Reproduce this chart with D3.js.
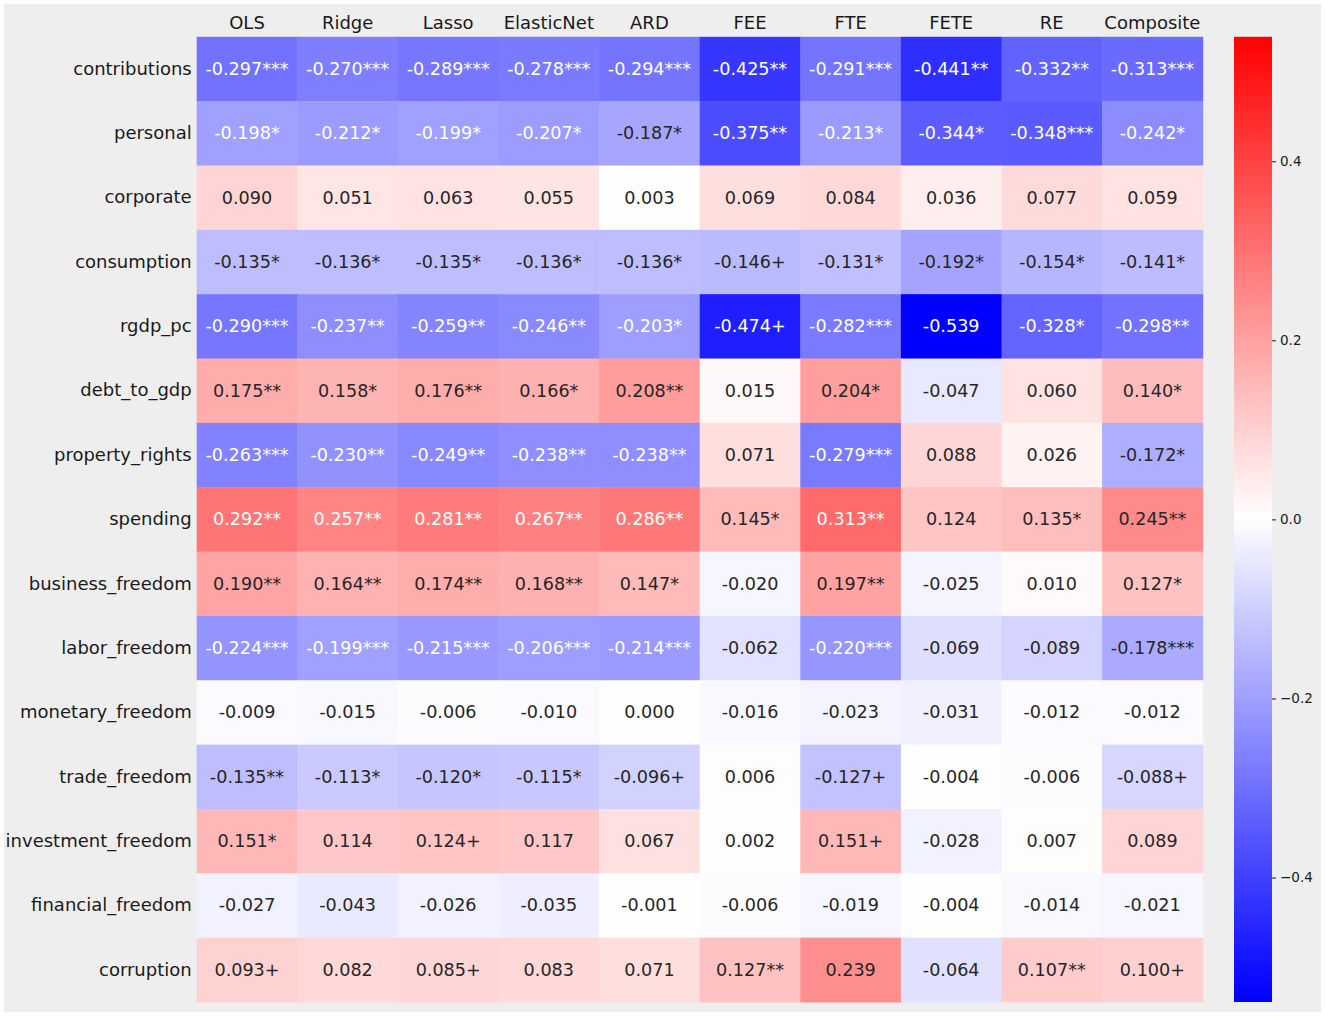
<!DOCTYPE html>
<html>
<head>
<meta charset="utf-8">
<script src="https://cdn.jsdelivr.net/npm/d3@7"></script>
<style>
  body { margin: 0; background: #ffffff; }
  text { font-family: "DejaVu Sans", sans-serif; }
</style>
</head>
<body>
<script>
// Les données du tableau
const modeles = ["OLS", "Ridge", "Lasso", "ElasticNet", "ARD", "FEE", "FTE", "FETE", "RE", "Composite"];
const variables = ["contributions", "personal", "corporate", "consumption", "rgdp_pc", "debt_to_gdp",
    "property_rights", "spending", "business_freedom", "labor_freedom", "monetary_freedom",
    "trade_freedom", "investment_freedom", "financial_freedom", "corruption"];

// coefficients, une ligne par variable
const coefficients = [
    [-0.297, -0.270, -0.289, -0.278, -0.294, -0.425, -0.291, -0.441, -0.332, -0.313],
    [-0.198, -0.212, -0.199, -0.207, -0.187, -0.375, -0.213, -0.344, -0.348, -0.242],
    [0.090, 0.051, 0.063, 0.055, 0.003, 0.069, 0.084, 0.036, 0.077, 0.059],
    [-0.135, -0.136, -0.135, -0.136, -0.136, -0.146, -0.131, -0.192, -0.154, -0.141],
    [-0.290, -0.237, -0.259, -0.246, -0.203, -0.474, -0.282, -0.539, -0.328, -0.298],
    [0.175, 0.158, 0.176, 0.166, 0.208, 0.015, 0.204, -0.047, 0.060, 0.140],
    [-0.263, -0.230, -0.249, -0.238, -0.238, 0.071, -0.279, 0.088, 0.026, -0.172],
    [0.292, 0.257, 0.281, 0.267, 0.286, 0.145, 0.313, 0.124, 0.135, 0.245],
    [0.190, 0.164, 0.174, 0.168, 0.147, -0.020, 0.197, -0.025, 0.010, 0.127],
    [-0.224, -0.199, -0.215, -0.206, -0.214, -0.062, -0.220, -0.069, -0.089, -0.178],
    [-0.009, -0.015, -0.006, -0.010, 0.000, -0.016, -0.023, -0.031, -0.012, -0.012],
    [-0.135, -0.113, -0.120, -0.115, -0.096, 0.006, -0.127, -0.004, -0.006, -0.088],
    [0.151, 0.114, 0.124, 0.117, 0.067, 0.002, 0.151, -0.028, 0.007, 0.089],
    [-0.027, -0.043, -0.026, -0.035, -0.001, -0.006, -0.019, -0.004, -0.014, -0.021],
    [0.093, 0.082, 0.085, 0.083, 0.071, 0.127, 0.239, -0.064, 0.107, 0.100]
];

// niveaux de significativite
const etoiles = [
    ["***", "***", "***", "***", "***", "**", "***", "**", "**", "***"],
    ["*", "*", "*", "*", "*", "**", "*", "*", "***", "*"],
    ["", "", "", "", "", "", "", "", "", ""],
    ["*", "*", "*", "*", "*", "+", "*", "*", "*", "*"],
    ["***", "**", "**", "**", "*", "+", "***", "", "*", "**"],
    ["**", "*", "**", "*", "**", "", "*", "", "", "*"],
    ["***", "**", "**", "**", "**", "", "***", "", "", "*"],
    ["**", "**", "**", "**", "**", "*", "**", "", "*", "**"],
    ["**", "**", "**", "**", "*", "", "**", "", "", "*"],
    ["***", "***", "***", "***", "***", "", "***", "", "", "***"],
    ["", "", "", "", "", "", "", "", "", ""],
    ["**", "*", "*", "*", "+", "", "+", "", "", "+"],
    ["*", "", "+", "", "", "", "+", "", "", ""],
    ["", "", "", "", "", "", "", "", "", ""],
    ["+", "", "+", "", "", "**", "", "", "**", "+"]
];

const ticksBarre = [-0.4, -0.2, 0.0, 0.2, 0.4];

// dimensions
const largeur = 1325;
const hauteur = 1016;
const gauche = 196.7, droite = 1202.7, haut = 36.8, bas = 1002;
const barreX = 1234, barreLargeur = 38;

const vmax = 0.539;

const svg = d3.select("body").append("svg")
    .attr("width", largeur)
    .attr("height", hauteur);

// fond gris
svg.append("rect")
    .attr("x", 4).attr("y", 4)
    .attr("width", 1317).attr("height", 1008)
    .attr("fill", "#eeeeee");

const x = d3.scaleBand().domain(modeles).range([gauche, droite]);
const y = d3.scaleBand().domain(variables).range([haut, bas]);

// colormap bwr de matplotlib (256 niveaux)
function bwr(v) {
    let t = (v + vmax) / (2 * vmax);
    let i = Math.min(255, Math.max(0, Math.floor(t * 256)));
    let p = i / 255;
    let r, g, b;
    if (p < 0.5) { r = 2 * p; g = 2 * p; b = 1; }
    else { r = 1; g = 2 * (1 - p); b = 2 * (1 - p); }
    return [r, g, b];
}
function enHex(c) {
    return d3.rgb(c[0] * 255, c[1] * 255, c[2] * 255).formatHex();
}
function luminance(c) {
    const lin = c.map(u => u <= 0.03928 ? u / 12.92 : Math.pow((u + 0.055) / 1.055, 2.4));
    return 0.2126 * lin[0] + 0.7152 * lin[1] + 0.0722 * lin[2];
}

const cellules = [];
variables.forEach((v, i) => {
    modeles.forEach((m, j) => {
        cellules.push({ v: v, m: m, val: coefficients[i][j], sig: etoiles[i][j] });
    });
});

// cases
svg.append("g").selectAll("rect")
    .data(cellules)
    .join("rect")
    .attr("x", d => x(d.m))
    .attr("y", d => y(d.v))
    .attr("width", x.bandwidth() + 0.5)
    .attr("height", y.bandwidth() + 0.5)
    .attr("fill", d => enHex(bwr(d.val)));

// texte des cases
svg.append("g").selectAll("text")
    .data(cellules)
    .join("text")
    .attr("x", d => x(d.m) + x.bandwidth() / 2)
    .attr("y", d => y(d.v) + y.bandwidth() / 2)
    .attr("text-anchor", "middle")
    .attr("dy", "0.34em")
    .style("font-size", "17.6px")
    .attr("fill", d => luminance(bwr(d.val)) > 0.408 ? "#262626" : "#ffffff")
    .text(d => d.val.toFixed(3) + d.sig);

// axes
const axeHaut = svg.append("g")
    .attr("transform", `translate(0,${haut})`)
    .call(d3.axisTop(x).tickSize(0).tickPadding(8));
const axeGauche = svg.append("g")
    .attr("transform", `translate(${gauche},0)`)
    .call(d3.axisLeft(y).tickSize(0).tickPadding(5));
[axeHaut, axeGauche].forEach(a => {
    a.select(".domain").remove();
    a.selectAll("text")
        .style("font-family", "DejaVu Sans")
        .style("font-size", "18px")
        .attr("fill", "#1a1a1a");
});

// barre de couleur
const defs = svg.append("defs");
const grad = defs.append("linearGradient")
    .attr("id", "degrade")
    .attr("x1", 0).attr("y1", 1).attr("x2", 0).attr("y2", 0);
d3.range(0, 257, 8).forEach(k => {
    const t = k / 256;
    grad.append("stop")
        .attr("offset", t)
        .attr("stop-color", enHex(bwr(-vmax + t * 2 * vmax - 1e-9)));
});
svg.append("rect")
    .attr("x", barreX).attr("y", haut)
    .attr("width", barreLargeur).attr("height", bas - haut)
    .attr("fill", "url(#degrade)");

const echelleBarre = d3.scaleLinear().domain([-vmax, vmax]).range([bas, haut]);
const axeBarre = svg.append("g")
    .attr("transform", `translate(${barreX + barreLargeur},0)`)
    .call(d3.axisRight(echelleBarre).tickValues(ticksBarre).tickSize(4).tickPadding(4).tickFormat(d3.format(".1f")));
axeBarre.select(".domain").remove();
axeBarre.selectAll("line").attr("stroke", "#1a1a1a");
axeBarre.selectAll("text")
    .style("font-family", "DejaVu Sans")
    .style("font-size", "13.5px")
    .attr("fill", "#1a1a1a");
</script>
</body>
</html>
